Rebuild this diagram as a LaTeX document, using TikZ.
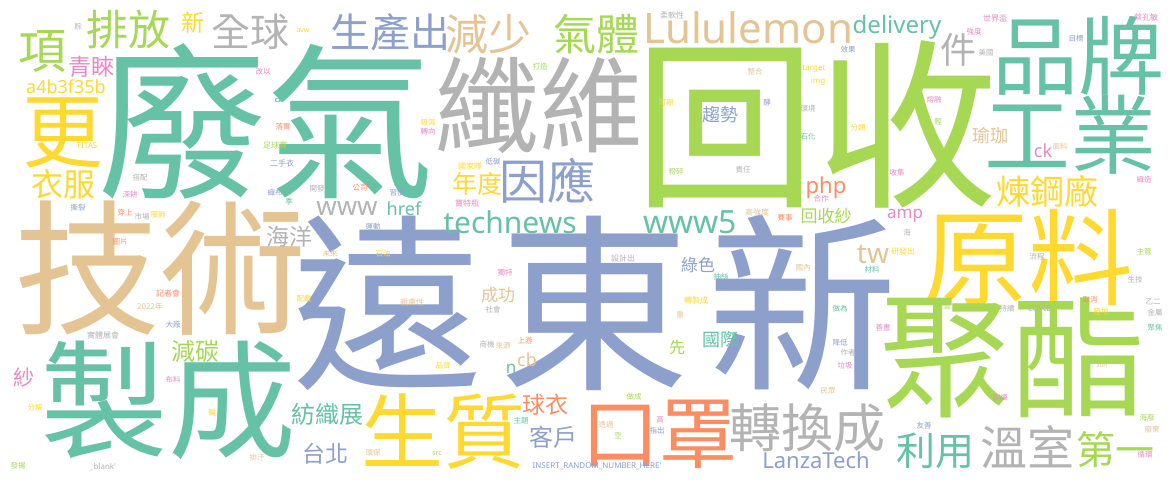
\documentclass[tikz,border=0pt]{standalone}
\usepackage{fontspec}
\setmainfont{Noto Sans CJK TC}
\newfontfamily\latinfont{Noto Sans}
\definecolor{wcG}{HTML}{66C2A5}
\definecolor{wcO}{HTML}{FC8D62}
\definecolor{wcB}{HTML}{8DA0CB}
\definecolor{wcP}{HTML}{E78AC3}
\definecolor{wcL}{HTML}{A6D854}
\definecolor{wcY}{HTML}{FFD92F}
\definecolor{wcT}{HTML}{E5C494}
\definecolor{wcA}{HTML}{B3B3B3}
\tikzset{cloudword/.style={anchor=base,inner sep=0pt,outer sep=0pt}}
\newcommand\cloudw[6]{\node[cloudword,text=#5,font=\fontsize{#4}{#4}\selectfont,yshift={-0.38*#4pt}] (#1) at (#2,#3) {#6};}
\newcommand\cloudl[6]{\node[cloudword,text=#5,font=\latinfont\fontsize{#4}{#4}\selectfont] (#1) at (#2,#3) {#6};}
\newcommand\cloudt[5]{\cloudw{#1}{#2}{#3}{7.5}{#4}{#5}}
\begin{document}
\begin{tikzpicture}[x=1pt,y=-1pt]
\useasboundingbox (0,0) rectangle (1175,482);
\fill[white] (0,0) rectangle (1175,482);
% large words
\cloudw{w01}{595}{303}{190}{wcB}{遠\hspace{18pt}東\hspace{18pt}新}
\cloudw{w02}{816}{124}{182}{wcL}{回收}
\cloudw{w03}{266}{122}{168}{wcG}{廢氣}
\cloudw{w04}{160}{268}{146}{wcT}{技術}
\cloudw{w05}{168}{400}{128}{wcG}{製成}
\cloudw{w06}{539}{105}{104}{wcA}{纖維}
\cloudw{w07}{1078}{56}{86}{wcG}{品牌}
\cloudw{w08}{1070}{135}{86}{wcG}{工業}
\cloudw{w09}{1028}{258}{105}{wcY}{原料}
\cloudw{w10}{1012}{357}{133}{wcL}{聚酯}
\cloudw{w11}{659}{433}{78}{wcO}{口罩}
\cloudw{w12}{443}{431}{82}{wcY}{生質}
\cloudw{w13}{807}{428}{52}{wcA}{轉換成}
\cloudw{w14}{1027}{448}{47}{wcA}{溫室}
\cloudw{w15}{935}{451}{39}{wcG}{利用}
\cloudw{w16}{1115}{450}{39}{wcL}{第一}
\cloudw{w17}{488}{34}{43}{wcT}{減少}
\cloudw{w18}{596}{34}{43}{wcL}{氣體}
\cloudw{w19}{390}{32}{40}{wcB}{生產出}
\cloudw{w20}{250}{32}{39}{wcA}{全球}
\cloudw{w21}{128}{30}{42}{wcL}{排放}
\cloudw{w22}{193}{23}{23}{wcY}{新}
\cloudw{w23}{43}{50}{48}{wcL}{項}
\cloudw{w24}{91}{67}{23}{wcP}{青睞}
\cloudw{w25}{63}{131}{81}{wcY}{更}
\cloudw{w26}{63}{184}{32}{wcY}{衣服}
\cloudw{w27}{958}{50}{36}{wcA}{件}
\cloudw{w28}{990}{136}{18}{wcT}{瑜珈}
\cloudw{w29}{1047}{192}{34}{wcY}{煉鋼廠}
\cloudw{w30}{547}{181}{48}{wcB}{因應}
\cloudw{w31}{477}{184}{25}{wcY}{年度}
\cloudw{w32}{289}{237}{23}{wcA}{海洋}
\cloudw{w33}{720}{115}{18}{wcB}{趨勢}
\cloudw{w34}{498}{295}{17}{wcT}{成功}
\cloudw{w35}{698}{265}{17}{wcB}{綠色}
\cloudw{w36}{826}{216}{17}{wcL}{回收紗}
\cloudw{w37}{720}{340}{18}{wcG}{國際}
\cloudw{w38}{677}{347}{16}{wcL}{先}
\cloudw{w39}{545}{405}{23}{wcO}{球衣}
\cloudw{w40}{553}{437}{24}{wcB}{客戶}
\cloudw{w41}{327}{414}{24}{wcG}{紡織展}
\cloudw{w42}{325}{454}{23}{wcB}{台北}
\cloudw{w43}{195}{351}{24}{wcL}{減碳}
\cloudw{w44}{24}{378}{21}{wcP}{紗}
% latin words
\cloudl{l01}{748}{43}{42}{wcT}{Lululemon}
\cloudl{l02}{897}{33}{24}{wcG}{delivery}
\cloudl{l03}{66}{93}{18}{wcY}{a4b3f35b}
\cloudl{l04}{87}{148}{8}{wcY}{TITAS}
\cloudl{l05}{278}{102}{13}{wcG}{a}
\cloudl{l06}{303}{32}{7}{wcY}{avw}
\cloudl{l07}{814}{70}{8}{wcY}{target}
\cloudl{l08}{818}{83}{8}{wcY}{img}
\cloudl{l09}{1043}{157}{18}{wcP}{ck}
\cloudl{l10}{905}{218}{17}{wcP}{amp}
\cloudl{l11}{873}{263}{28}{wcT}{tw}
\cloudl{l12}{826}{193}{22}{wcO}{php}
\cloudl{l13}{347}{215}{26}{wcA}{www}
\cloudl{l14}{404}{215}{18}{wcG}{href}
\cloudl{l15}{510}{233}{30}{wcG}{technews}
\cloudl{l16}{690}{233}{32}{wcG}{www5}
\cloudl{l17}{816}{468}{22}{wcB}{LanzaTech}
\cloudl{l18}{527}{366}{18}{wcT}{cb}
\cloudl{l19}{511}{373}{17}{wcG}{n}
\cloudl{l20}{437}{455}{7}{wcL}{src}
\cloudl{l21}{103}{469}{8}{wcA}{\_blank'}
\cloudl{l22}{597}{468}{8}{wcB}{INSERT\_RANDOM\_NUMBER\_HERE'}
\cloudl{l23}{1040}{311}{8}{wcA}{COVID}
\cloudl{l24}{1102}{367}{6}{wcT}{zon}
% tiny words
\cloudt{t01}{78}{27}{wcA}{粽}
\cloudt{t02}{263}{72}{wcP}{改以}
\cloudt{t03}{283}{127}{wcO}{落實}
\cloudw{t04}{275}{145}{8}{wcL}{足球賽}
\cloudw{t05}{282}{163}{8}{wcB}{二手衣}
\cloudw{t06}{672}{15}{8}{wcA}{柔軟性}
\cloudt{t07}{848}{50}{wcB}{效果}
\cloudt{t08}{755}{72}{wcT}{整合}
\cloudt{t09}{666}{103}{wcY}{可期}
\cloudt{t10}{767}{103}{wcB}{酵}
\cloudt{t11}{808}{109}{wcA}{環境}
\cloudt{t12}{858}{128}{wcY}{分類}
\cloudt{t13}{808}{137}{wcG}{石化}
\cloudw{t14}{995}{18}{8}{wcP}{世界盃}
\cloudt{t15}{974}{32}{wcP}{強度}
\cloudt{t16}{986}{53}{wcA}{美國}
\cloudt{t17}{1076}{39}{wcB}{目標}
\cloudw{t18}{1146}{17}{8}{wcP}{蔡孔敏}
\cloudt{t19}{934}{100}{wcP}{熔融}
\cloudt{t20}{938}{122}{wcL}{輕}
\cloudt{t21}{1060}{147}{wcT}{面料}
\cloudt{t22}{540}{67}{wcL}{打造}
\cloudt{t23}{428}{123}{wcY}{吸濕}
\cloudt{t24}{428}{132}{wcP}{轉向}
\cloudt{t25}{493}{162}{wcB}{低碳}
\cloudw{t26}{470}{166}{8}{wcY}{國家隊}
\cloudt{t27}{897}{173}{wcP}{收集}
\cloudt{t28}{1144}{180}{wcP}{織造}
\cloudt{t29}{907}{233}{wcA}{海}
\cloudw{t30}{903}{251}{8}{wcY}{研發出}
\cloudt{t31}{872}{270}{wcG}{材料}
\cloudt{t32}{1144}{252}{wcL}{主管}
\cloudt{t33}{1037}{257}{wcA}{流程}
\cloudt{t34}{1135}{280}{wcA}{生技}
\cloudt{t35}{1090}{300}{wcO}{取消}
\cloudt{t36}{1153}{302}{wcA}{乙二}
\cloudt{t37}{943}{307}{wcL}{經濟}
\cloudt{t38}{1007}{309}{wcA}{持續}
\cloudt{t39}{1101}{312}{wcY}{陸地}
\cloudt{t40}{1155}{313}{wcA}{金屬}
\cloudt{t41}{1155}{328}{wcG}{聚焦}
\cloudt{t42}{883}{328}{wcP}{善書}
\cloudt{t43}{1000}{398}{wcP}{訓練}
\cloudt{t44}{1147}{418}{wcL}{海廢}
\cloudt{t45}{1152}{430}{wcT}{廢棄}
\cloudt{t46}{1145}{455}{wcP}{循環}
\cloudt{t47}{924}{426}{wcB}{友善}
\cloudt{t48}{840}{343}{wcB}{降低}
\cloudt{t49}{848}{353}{wcA}{作者}
\cloudt{t50}{845}{366}{wcP}{垃圾}
\cloudt{t51}{828}{391}{wcT}{民眾}
\cloudt{t52}{634}{397}{wcL}{做成}
\cloudt{t53}{660}{420}{wcP}{高}
\cloudt{t54}{657}{431}{wcB}{指出}
\cloudt{t55}{606}{425}{wcT}{透過}
\cloudt{t56}{618}{436}{wcL}{空}
\cloudt{t57}{525}{341}{wcO}{上游}
\cloudt{t58}{487}{345}{wcA}{商機}
\cloudt{t59}{503}{346}{wcT}{來源}
\cloudt{t60}{450}{326}{wcB}{陸}
\cloudt{t61}{443}{366}{wcY}{品質}
\cloudt{t62}{521}{421}{wcG}{主題}
\cloudt{t63}{373}{453}{wcT}{環保}
\cloudt{t64}{173}{325}{wcB}{大廠}
\cloudw{t65}{103}{335}{8}{wcA}{實體展會}
\cloudt{t66}{173}{380}{wcP}{布料}
\cloudt{t67}{35}{408}{wcY}{分解}
\cloudt{t68}{212}{413}{wcY}{輪}
\cloudt{t69}{257}{458}{wcT}{排汙}
\cloudt{t70}{18}{466}{wcL}{發揚}
\cloudt{t71}{140}{178}{wcA}{搭配}
\cloudt{t72}{130}{195}{wcP}{深耕}
\cloudt{t73}{78}{208}{wcB}{撕裂}
\cloudt{t74}{125}{213}{wcO}{穿上}
\cloudt{t75}{142}{217}{wcA}{市場}
\cloudt{t76}{158}{215}{wcY}{服飾}
\cloudt{t77}{120}{242}{wcO}{圖片}
\cloudw{t78}{168}{293}{8}{wcO}{記者會}
\cloudw{t79}{150}{306}{8}{wcT}{2022年}
\cloudt{t80}{275}{193}{wcB}{織布}
\cloudt{t81}{289}{202}{wcG}{季}
\cloudt{t82}{304}{299}{wcY}{配戴}
\cloudt{t83}{317}{189}{wcA}{開發}
\cloudt{t84}{360}{188}{wcO}{公司}
\cloudt{t85}{397}{193}{wcB}{習慣}
\cloudw{t86}{467}{203}{8}{wcP}{寶特瓶}
\cloudt{t87}{373}{227}{wcB}{運動}
\cloudt{t88}{330}{254}{wcT}{未來}
\cloudt{t89}{383}{254}{wcY}{石油}
\cloudt{t90}{505}{273}{wcP}{獨特}
\cloudw{t91}{412}{302}{8}{wcT}{親膚性}
\cloudt{t92}{493}{310}{wcA}{社會}
\cloudt{t93}{676}{172}{wcL}{粉碎}
\cloudt{t94}{743}{170}{wcA}{責任}
\cloudt{t95}{821}{199}{wcP}{合作}
\cloudw{t96}{757}{212}{8}{wcT}{高強度}
\cloudt{t97}{785}{218}{wcO}{賽事}
\cloudw{t98}{623}{258}{8}{wcA}{設計出}
\cloudt{t99}{803}{268}{wcT}{國內}
\cloudt{t100}{721}{277}{wcG}{抽絲}
\cloudw{t101}{696}{300}{8}{wcY}{轉製成}
\cloudt{t102}{840}{309}{wcG}{做為}
\cloudt{t103}{680}{315}{wcT}{重}
\end{tikzpicture}
\end{document}
